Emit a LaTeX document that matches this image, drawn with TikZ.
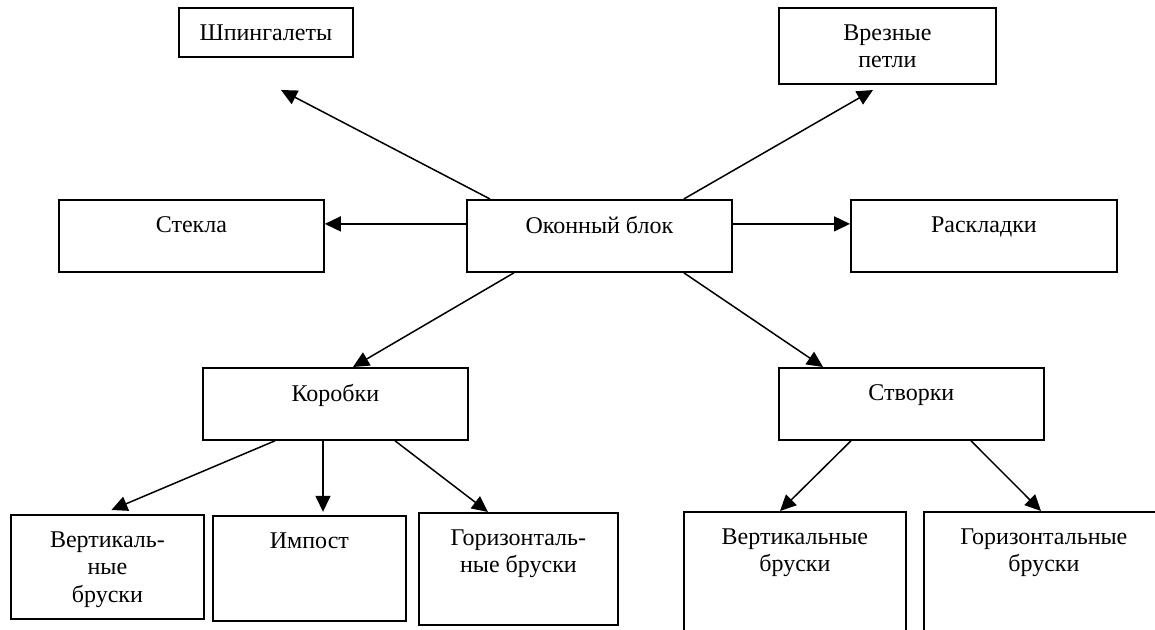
\documentclass[tikz,border=0pt]{standalone}
\usepackage{fontspec}
\setmainfont{Liberation Serif}
\usetikzlibrary{arrows.meta,calc}

\begin{document}
\begin{tikzpicture}[x=0.5pt,y=-0.5pt,
   box/.style={draw, line width=0.9pt, anchor=north west, inner sep=0pt},
   txt/.style={anchor=north, yshift=-8.5pt, inner sep=0pt, align=center,
     font=\fontsize{12pt}{13.8pt}\selectfont},
   arr/.style={line width=0.75pt, -{Triangle[length=8pt,width=7.5pt]}}]
   \useasboundingbox (0,0) rectangle (1155,630);
   \clip (0,0) rectangle (1155,630);

   % top row
   \node[box, minimum width=87pt, minimum height=24.5pt, label={[txt]north:Шпингалеты}] (shping) at (178,7) {};
   \node[box, minimum width=108.5pt, minimum height=38pt, label={[txt]north:{Врезные\\петли}}] (vrez) at (778,7) {};
   \coordinate (shpingend) at (281,90);
   \coordinate (vrezend) at (873,90);

   % middle row
   \node[box, minimum width=132.5pt, minimum height=36pt, label={[txt]north:Стекла}] (stekla) at (58,199) {};
   \node[box, minimum width=132.5pt, minimum height=36pt, label={[txt]north:Оконный блок}] (okno) at (466,199) {};
   \node[box, minimum width=133pt, minimum height=36pt, label={[txt]north:Раскладки}] (rask) at (850,199) {};

   \node[box, minimum width=132.5pt, minimum height=36pt, label={[txt]north:Коробки}] (korob) at (202,367) {};
   \node[box, minimum width=132.5pt, minimum height=36pt, label={[txt]north:Створки}] (stvor) at (778,367) {};

   % bottom row
   \node[box, minimum width=96.5pt, minimum height=52pt, label={[txt]north:{Вертикаль-\\ные\\бруски}}] (vertk) at (10,514) {};
   \node[box, minimum width=96.5pt, minimum height=52.5pt, label={[txt]north:Импост}] (impost) at (212,515) {};
   \node[box, minimum width=99.5pt, minimum height=56pt, label={[txt]north:{Горизонталь-\\ные бруски}}] (gorizk) at (418,512) {};
   \node[box, minimum width=111pt, minimum height=94.5pt, label={[txt]north:{Вертикальные\\бруски}}] (verts) at (683,511) {};
   \node[box, minimum width=120pt, minimum height=94.5pt, label={[txt]north:{Горизонтальные\\бруски}}] (gorizs) at (923,511) {};

   % arrows from the window block
   \draw[arr] ($(okno.north west)+(24,0)$) -- (shpingend);
   \draw[arr] ($(okno.north east)+(-49,0)$) -- (vrezend);
   \draw[arr] ([yshift=6pt]okno.west) -- ([yshift=6pt]stekla.east);
   \draw[arr] ([yshift=6pt]okno.east) -- ([yshift=6pt]rask.west);
   \draw[arr] ($(okno.south west)+(48,0)$) -- ($(korob.north west)+(151,0)$);
   \draw[arr] ($(okno.south east)+(-49,0)$) -- ($(stvor.north west)+(45,0)$);

   % arrows to the bars
   \draw[arr] ($(korob.south west)+(73,0)$) -- ($(vertk.north)+(4,-4)$);
   \draw[arr] ($(korob.south west)+(121,0)$) -- ($(korob.south west)+(121,71)$);
   \draw[arr] ($(korob.south west)+(193,0)$) -- ($(gorizk.north west)+(70,0)$);
   \draw[arr] ($(stvor.south west)+(73,0)$) -- ($(verts.north west)+(97,0)$);
   \draw[arr] ($(stvor.south west)+(193,0)$) -- ($(gorizs.north west)+(118,0)$);
\end{tikzpicture}
\end{document}
